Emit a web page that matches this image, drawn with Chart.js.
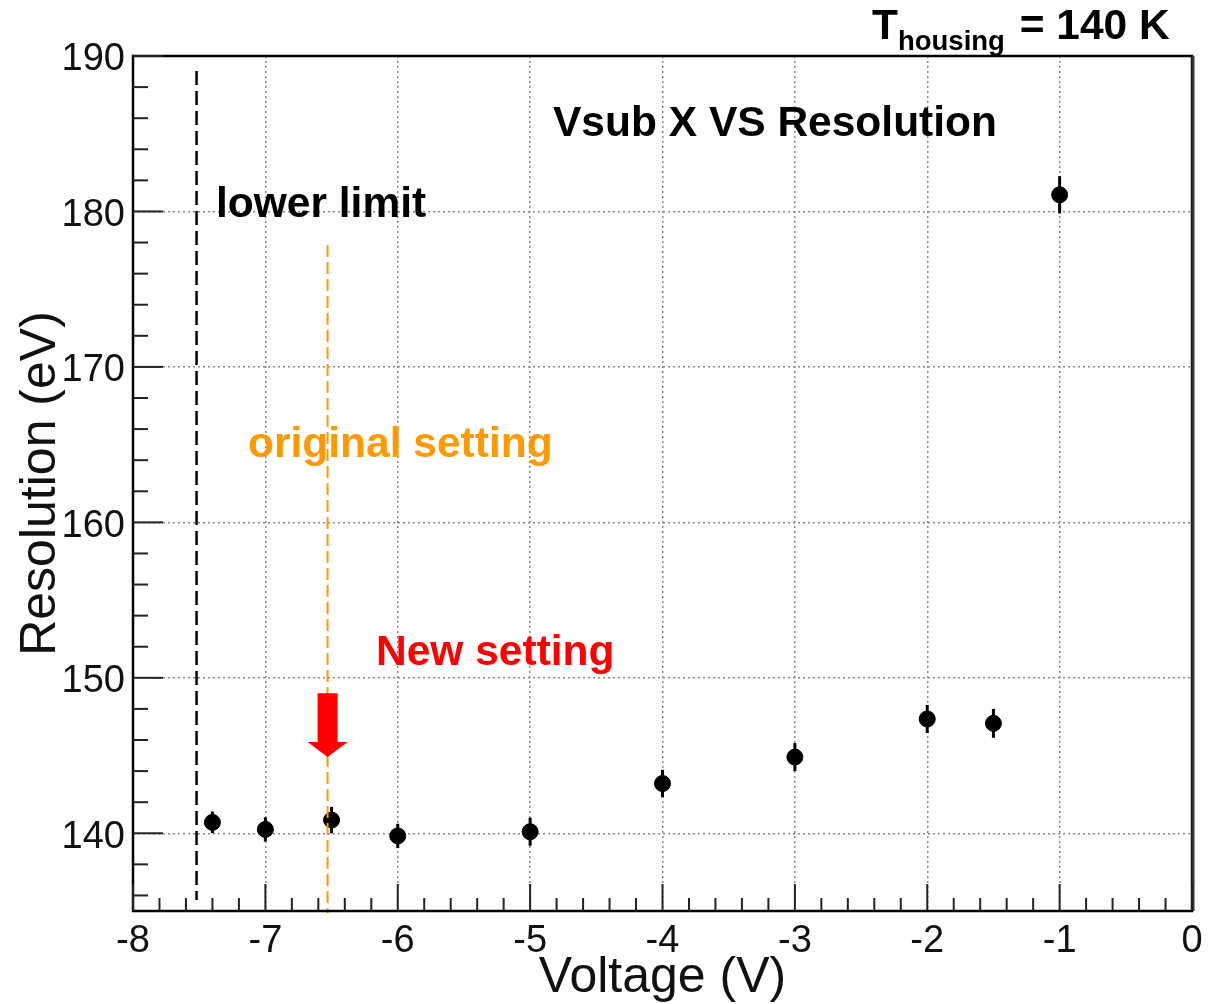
<!DOCTYPE html>
<html>
<head>
<meta charset="utf-8">
<script src="https://cdn.jsdelivr.net/npm/chart.js@4.4.0/dist/chart.umd.min.js"></script>
<style>
  html, body { margin: 0; padding: 0; background: #fff; }
  canvas { display: block; }
</style>
</head>
<body>
<canvas id="graficoResolucion" width="1214" height="1004"></canvas>
<script>
// datos
const voltajes = [-7.4, -7, -6.5, -6, -5, -4, -3, -2, -1.5, -1]
const resoluciones = [140.7, 140.25, 140.85, 139.83, 140.1, 143.2, 144.9, 147.35, 147.07, 181.07]
const errores = [0.7, 0.78, 0.85, 0.78, 0.9, 0.88, 0.9, 0.9, 0.93, 1.2]
const ticksX = [-8, -7, -6, -5, -4, -3, -2, -1, 0]
const ticksY = [140, 150, 160, 170, 180, 190]
const limiteInferior = -7.52
const ajusteOriginal = -6.53

const fuente = "'Liberation Sans', Arial, Helvetica, sans-serif"

const extras = {
  id: 'extras',
  beforeDatasetsDraw(chart) {
    const { ctx, scales: { x, y } } = chart
    // barras de error
    ctx.save()
    ctx.strokeStyle = '#000'
    ctx.lineWidth = 3
    voltajes.forEach((v, i) => {
      const px = x.getPixelForValue(v)
      ctx.beginPath()
      ctx.moveTo(px, y.getPixelForValue(resoluciones[i] - errores[i]))
      ctx.lineTo(px, y.getPixelForValue(resoluciones[i] + errores[i]))
      ctx.stroke()
    })
    ctx.restore()
  },
  afterDraw(chart) {
    const { ctx, chartArea: area, scales: { x, y } } = chart
    ctx.save()

    // linea limite inferior
    ctx.strokeStyle = '#000'
    ctx.lineWidth = 2.5
    ctx.setLineDash([14, 6])
    ctx.beginPath()
    ctx.moveTo(x.getPixelForValue(limiteInferior), y.getPixelForValue(189.04))
    ctx.lineTo(x.getPixelForValue(limiteInferior), y.getPixelForValue(135.7))
    ctx.stroke()

    // linea ajuste original
    ctx.strokeStyle = '#FF9900'
    ctx.lineWidth = 2
    ctx.setLineDash([12, 5])
    ctx.beginPath()
    ctx.moveTo(x.getPixelForValue(ajusteOriginal), y.getPixelForValue(177.84))
    ctx.lineTo(x.getPixelForValue(ajusteOriginal), area.bottom + 2)
    ctx.stroke()
    ctx.setLineDash([])

    // flecha roja
    const cx = x.getPixelForValue(ajusteOriginal)
    const arriba = y.getPixelForValue(149.0)
    const base = y.getPixelForValue(145.87)
    const punta = y.getPixelForValue(144.9)
    ctx.fillStyle = '#FF0000'
    ctx.beginPath()
    ctx.moveTo(cx - 10, arriba)
    ctx.lineTo(cx + 10, arriba)
    ctx.lineTo(cx + 10, base)
    ctx.lineTo(cx + 20, base)
    ctx.lineTo(cx, punta)
    ctx.lineTo(cx - 20, base)
    ctx.lineTo(cx - 10, base)
    ctx.closePath()
    ctx.fill()

    // marco
    ctx.strokeStyle = '#000'
    ctx.lineWidth = 2.5
    ctx.strokeRect(area.left, area.top, area.right - area.left, area.bottom - area.top)
    ctx.strokeStyle = '#333'
    ctx.lineWidth = 3
    ctx.beginPath()
    ctx.moveTo(area.right + 1, area.top)
    ctx.lineTo(area.right + 1, area.bottom)
    ctx.stroke()

    // marcas interiores
    ctx.strokeStyle = '#222'
    ctx.lineWidth = 2
    for (let v = 136; v <= 190; v += 2) {
      const py = y.getPixelForValue(v)
      const largo = v % 10 === 0 ? 30 : 15
      ctx.beginPath()
      ctx.moveTo(area.left, py)
      ctx.lineTo(area.left + largo, py)
      ctx.stroke()
    }
    for (let k = 0; k <= 40; k++) {
      const px = x.getPixelForValue(-8 + k * 0.2)
      const largo = k % 5 === 0 ? 27 : 13
      ctx.beginPath()
      ctx.moveTo(px, area.bottom)
      ctx.lineTo(px, area.bottom - largo)
      ctx.stroke()
    }

    // textos
    ctx.textAlign = 'left'
    ctx.textBaseline = 'alphabetic'
    ctx.font = 'bold 42.5px ' + fuente
    ctx.fillStyle = '#000'
    ctx.fillText('lower limit', x.getPixelForValue(-7.373), y.getPixelForValue(179.64))
    ctx.fillText('Vsub X VS Resolution', x.getPixelForValue(-4.827), y.getPixelForValue(184.85))
    ctx.fillStyle = '#FF9900'
    ctx.fillText('original setting', x.getPixelForValue(-7.131), y.getPixelForValue(164.2))
    ctx.fillStyle = '#FF0000'
    ctx.fillText('New setting', x.getPixelForValue(-6.164), y.getPixelForValue(150.82))

    // temperatura
    ctx.fillStyle = '#000'
    ctx.fillText('T', 872, 39)
    const anchoT = ctx.measureText('T').width
    ctx.font = 'bold 27.5px ' + fuente
    ctx.fillText('housing', 872 + anchoT, 50)
    const anchoH = ctx.measureText('housing').width
    ctx.font = 'bold 42.5px ' + fuente
    ctx.fillText(' = 140 K', 872 + anchoT + anchoH + 3, 39)

    ctx.restore()
  }
}

const lienzo = document.getElementById('graficoResolucion')

new Chart(lienzo, {
  type: 'scatter',
  data: {
    datasets: [
      {
        label: 'Vsub X VS Resolution',
        data: voltajes.map((v, i) => ({ x: v, y: resoluciones[i] })),
        pointRadius: 8,
        pointHoverRadius: 8,
        backgroundColor: '#000',
        borderColor: '#000',
        showLine: false,
      },
    ],
  },
  options: {
    responsive: false,
    animation: false,
    devicePixelRatio: 1,
    layout: { padding: { top: 56, right: 22, left: 0, bottom: 0 } },
    plugins: {
      legend: { display: false },
      tooltip: { enabled: false },
    },
    scales: {
      x: {
        type: 'linear',
        min: -8,
        max: 0,
        afterBuildTicks: (s) => { s.ticks = ticksX.map((v) => ({ value: v })) },
        afterFit: (s) => { s.height = 93 },
        grid: { color: '#888', lineWidth: 1.5, drawTicks: false },
        border: { display: false, dash: [2, 3] },
        ticks: {
          autoSkip: false,
          maxRotation: 0,
          padding: 8,
          color: '#111',
          font: { family: fuente, size: 38 },
          callback: (v) => String(v),
        },
        title: {
          display: true,
          text: 'Voltage (V)',
          color: '#111',
          font: { family: fuente, size: 50 },
          padding: { top: 0, bottom: -4 },
        },
      },
      y: {
        type: 'linear',
        min: 135,
        max: 190,
        afterBuildTicks: (s) => { s.ticks = ticksY.map((v) => ({ value: v })) },
        afterFit: (s) => { s.width = 133 },
        grid: { color: '#888', lineWidth: 1.5, drawTicks: false },
        border: { display: false, dash: [2, 3] },
        ticks: {
          padding: 8,
          labelOffset: 4,
          color: '#111',
          font: { family: fuente, size: 38 },
          callback: (v) => String(v),
        },
        title: {
          display: true,
          text: 'Resolution (eV)',
          color: '#111',
          font: { family: fuente, size: 50 },
          padding: { top: 11, bottom: 0 },
        },
      },
    },
  },
  plugins: [extras],
})
</script>
</body>
</html>
